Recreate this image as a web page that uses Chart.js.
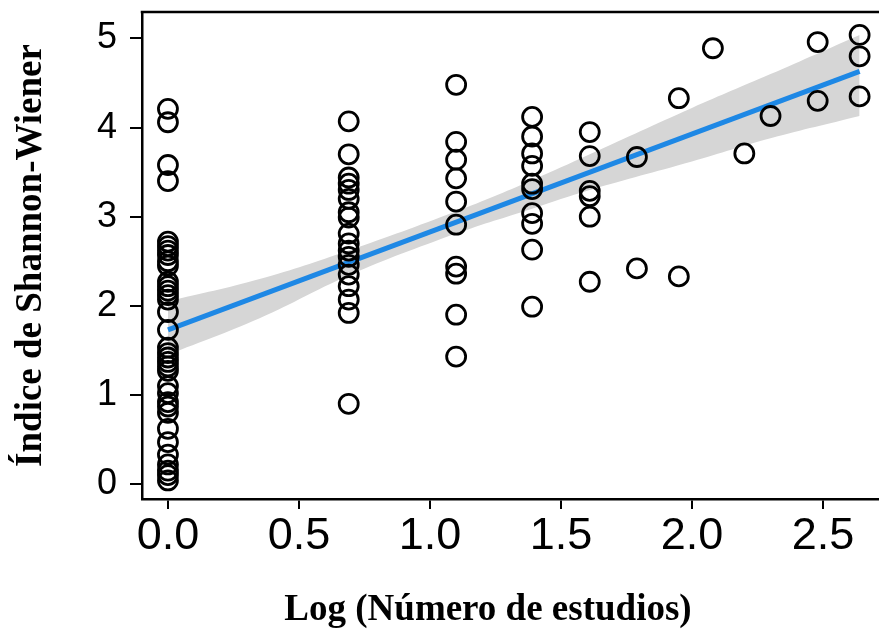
<!DOCTYPE html>
<html lang="es">
<head>
<meta charset="utf-8">
<title>Índice de Shannon-Wiener</title>
<script src="https://cdn.jsdelivr.net/npm/chart.js@4/dist/chart.umd.min.js"></script>
<style>
    html, body { margin: 0; padding: 0; background: #fff; }
    #chart { display: block; }
</style>
</head>
<body>
<canvas id="chart" width="879" height="633"></canvas>
<script>
// Niveles de Log (número de estudios)
const xLevels = [0, 0.69, 1.10, 1.39, 1.61, 1.79, 1.95, 2.08, 2.20, 2.30, 2.48, 2.64];

// Índice de Shannon-Wiener en cada nivel
const shannonByLevel = [
    [4.21, 4.06, 3.58, 3.40, 2.72, 2.67, 2.62, 2.57, 2.50, 2.45, 2.27, 2.22, 2.17, 2.12, 2.07, 1.93, 1.73,
     1.53, 1.47, 1.42, 1.37, 1.32, 1.27, 1.10, 1.02, 0.92, 0.87, 0.80, 0.62, 0.47, 0.33, 0.22, 0.15, 0.10, 0.04],
    [4.07, 3.70, 3.44, 3.37, 3.30, 3.20, 3.05, 2.99, 2.81, 2.70, 2.62, 2.55, 2.46, 2.35, 2.22, 2.07, 1.92, 0.90],
    [4.48, 3.84, 3.64, 3.43, 3.17, 2.91, 2.44, 2.36, 1.90, 1.43],
    [4.12, 3.90, 3.71, 3.57, 3.37, 3.31, 3.04, 2.92, 2.63, 1.99],
    [3.95, 3.68, 3.29, 3.23, 3.00, 2.27],
    [3.67, 2.42],
    [4.33, 2.33],
    [4.89],
    [3.71],
    [4.13],
    [4.96, 4.30],
    [5.04, 4.80, 4.35]
];

// Recta de regresión (extremos)
const fitX = [0, 2.64];
const fitY = [1.73, 4.63];

// Banda de confianza
const bandX = [0, 0.35, 0.69, 1.10, 1.39, 1.61, 2.00, 2.30, 2.64];
const bandUpper = [2.05, 2.30, 2.62, 3.06, 3.41, 3.70, 4.22, 4.60, 5.04];
const bandLower = [1.45, 1.86, 2.34, 2.81, 3.09, 3.30, 3.62, 3.88, 4.13];

// Marcas de los ejes
const xTicks = [0, 0.5, 1.0, 1.5, 2.0, 2.5];
const yTicks = [0, 1, 2, 3, 4, 5];

const xTitle = 'Log (Número de estudios)';
const yTitle = 'Índice de Shannon-Wiener';

const sansFont = "'Liberation Sans', Arial, sans-serif";
const serifFont = "'Liberation Serif', 'Times New Roman', serif";

function buildPoints() {
    const points = [];
    xLevels.forEach((x, i) => {
        shannonByLevel[i].forEach(y => points.push({ x: x, y: y }));
    });
    return points;
}

function pairs(xs, ys) {
    return xs.map((x, i) => ({ x: x, y: ys[i] }));
}

// marco superior y título del eje x (algo desplazado a la izquierda en el original)
const frameAndTitle = {
    id: 'frameAndTitle',
    afterDraw(chart) {
        const { ctx, chartArea } = chart;
        ctx.save();
        ctx.strokeStyle = '#000';
        ctx.lineWidth = 2.5;
        ctx.beginPath();
        ctx.moveTo(chartArea.left - 1.25, chartArea.top);
        ctx.lineTo(chartArea.right, chartArea.top);
        ctx.stroke();

        ctx.fillStyle = '#000';
        ctx.font = 'bold 37px ' + serifFont;
        ctx.textAlign = 'center';
        ctx.textBaseline = 'alphabetic';
        ctx.fillText(xTitle, chartArea.left + 346, chartArea.bottom + 121);
        ctx.restore();
    }
};

new Chart(document.getElementById('chart'), {
    type: 'scatter',
    data: {
        datasets: [
            {
                label: 'Observaciones',
                data: buildPoints(),
                order: 1,
                pointRadius: 9.5,
                pointHoverRadius: 9.5,
                pointBorderWidth: 2.8,
                borderColor: '#000',
                backgroundColor: 'rgba(0,0,0,0)'
            },
            {
                type: 'line',
                label: 'Ajuste lineal',
                data: pairs(fitX, fitY),
                order: 2,
                borderColor: 'rgb(30,136,229)',
                borderWidth: 5,
                pointRadius: 0,
                fill: false
            },
            {
                type: 'line',
                label: 'IC inferior',
                data: pairs(bandX, bandLower),
                order: 3,
                borderWidth: 0,
                borderColor: 'rgba(0,0,0,0)',
                pointRadius: 0,
                tension: 0.4,
                fill: false
            },
            {
                type: 'line',
                label: 'IC superior',
                data: pairs(bandX, bandUpper),
                order: 3,
                borderWidth: 0,
                borderColor: 'rgba(0,0,0,0)',
                backgroundColor: 'rgb(214,214,214)',
                pointRadius: 0,
                tension: 0.4,
                fill: '-1'
            }
        ]
    },
    options: {
        responsive: false,
        animation: false,
        layout: { autoPadding: false, padding: { top: 12, right: 0, left: 0, bottom: 0 } },
        plugins: {
            legend: { display: false },
            tooltip: { enabled: false }
        },
        scales: {
            x: {
                type: 'linear',
                min: -0.099,
                max: 2.714,
                afterFit: s => {
                    s.height = 134;
                    s.paddingLeft = 0;
                    s.paddingRight = 0;
                },
                afterBuildTicks: s => { s.ticks = xTicks.map(v => ({ value: v })); },
                border: { display: true, color: '#000', width: 2.5 },
                grid: { drawOnChartArea: false, drawTicks: true, tickLength: 10, color: '#000', lineWidth: 2 },
                ticks: {
                    color: '#000',
                    padding: 1,
                    maxRotation: 0,
                    font: { family: sansFont, size: 45 },
                    callback: v => Number(v).toFixed(1)
                },
                title: { display: false }
            },
            y: {
                type: 'linear',
                min: -0.168,
                max: 5.297,
                afterFit: s => {
                    s.width = 142;
                    s.paddingTop = 0;
                    s.paddingBottom = 0;
                },
                afterBuildTicks: s => { s.ticks = yTicks.map(v => ({ value: v })); },
                border: { display: true, color: '#000', width: 2.5 },
                grid: { drawOnChartArea: false, drawTicks: true, tickLength: 12, color: '#000', lineWidth: 2 },
                ticks: {
                    color: '#000',
                    padding: 13,
                    font: { family: sansFont, size: 36 },
                    callback: v => String(v)
                },
                title: {
                    display: true,
                    text: yTitle,
                    color: '#000',
                    font: { family: serifFont, size: 37, weight: 'bold' },
                    padding: { top: 9, bottom: 0 }
                }
            }
        }
    },
    plugins: [frameAndTitle]
});
</script>
</body>
</html>
